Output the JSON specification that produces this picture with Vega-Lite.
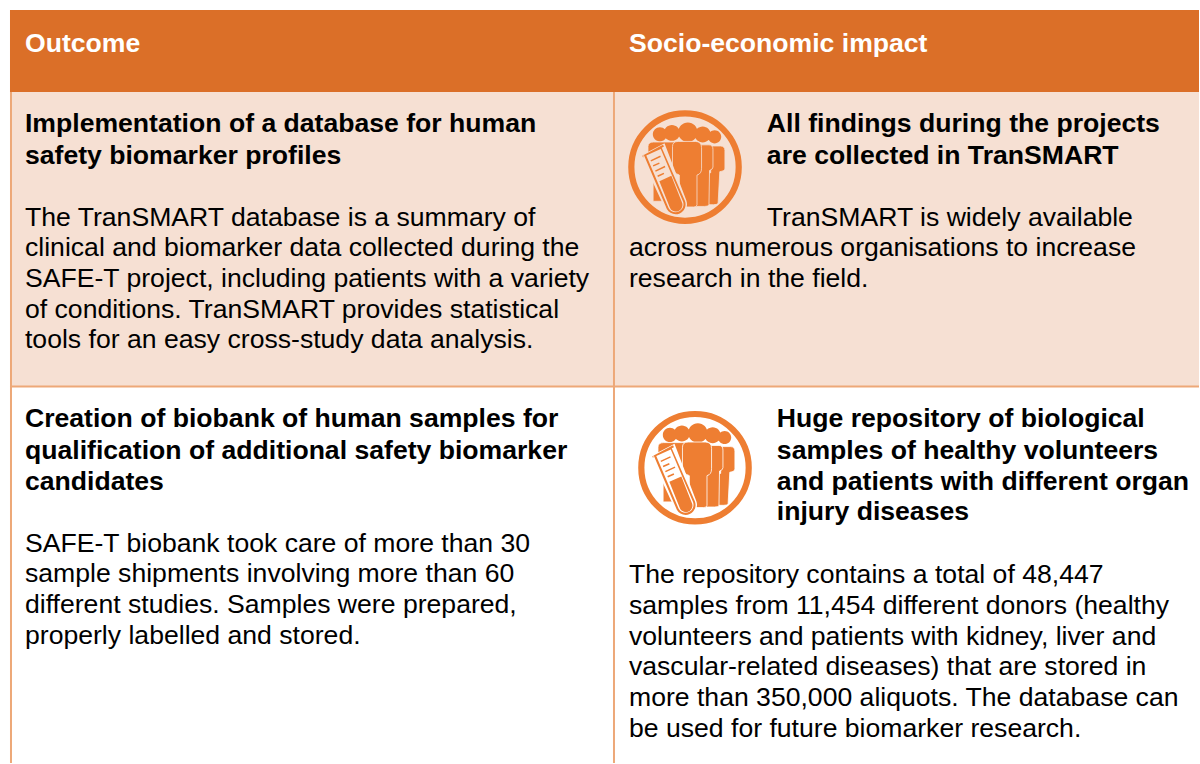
{
"$schema":"https://vega.github.io/schema/vega-lite/v6.json",
"width":1200,"height":764,"padding":0,"autosize":{"type":"fit","contains":"padding"},
"background":"#ffffff",
"config":{"view":{"stroke":null}},
"datasets":{
"bands":[{"name":"header","x":10,"x1":1200,"y":10,"y1":92},{"name":"row1","x":10,"x1":1200,"y":92,"y1":387}],
"vlines":[{"x":11,"y":92,"y1":764},{"x":614.5,"y":92,"y1":764}],
"hlines":[{"x":10,"x1":1200,"y":387,"y1":387}],
"icons":[{"x":685.6,"y":167.3,"row":"shaded"},{"x":695.6,"y":468.3,"row":"plain"}],
"head":[{"x":25,"y":52,"t":"Outcome"},{"x":629.5,"y":52,"t":"Socio-economic impact"}],
"bold":[
{"x":25,"y":132,"t":"Implementation of a database for human"},
{"x":25,"y":164,"t":"safety biomarker profiles"},
{"x":767.5,"y":132,"t":"All findings during the projects"},
{"x":767.5,"y":164,"t":"are collected in TranSMART"},
{"x":25,"y":428,"t":"Creation of biobank of human samples for"},
{"x":25,"y":460,"t":"qualification of additional safety biomarker"},
{"x":25,"y":491,"t":"candidates"},
{"x":777.5,"y":428,"t":"Huge repository of biological"},
{"x":777.5,"y":460,"t":"samples of healthy volunteers"},
{"x":777.5,"y":491,"t":"and patients with different organ"},
{"x":777.5,"y":521,"t":"injury diseases"}],
"body":[
{"x":25,"y":226,"t":"The TranSMART database is a summary of"},
{"x":25,"y":256,"t":"clinical and biomarker data collected during the"},
{"x":25,"y":287,"t":"SAFE-T project, including patients with a variety"},
{"x":25,"y":318,"t":"of conditions. TranSMART provides statistical"},
{"x":25,"y":348,"t":"tools for an easy cross-study data analysis."},
{"x":767.5,"y":226,"t":"TranSMART is widely available"},
{"x":629.5,"y":256,"t":"across numerous organisations to increase"},
{"x":629.5,"y":287,"t":"research in the field."},
{"x":25,"y":553,"t":"SAFE-T biobank took care of more than 30"},
{"x":25,"y":583,"t":"sample shipments involving more than 60"},
{"x":25,"y":614,"t":"different studies. Samples were prepared,"},
{"x":25,"y":645,"t":"properly labelled and stored."},
{"x":629.5,"y":584,"t":"The repository contains a total of 48,447"},
{"x":629.5,"y":615,"t":"samples from 11,454 different donors (healthy"},
{"x":629.5,"y":646,"t":"volunteers and patients with kidney, liver and"},
{"x":629.5,"y":676,"t":"vascular-related diseases) that are stored in"},
{"x":629.5,"y":707,"t":"more than 350,000 aliquots. The database can"},
{"x":629.5,"y":738,"t":"be used for future biomarker research."}]
},
"encoding":{
"x":{"field":"x","type":"quantitative","scale":{"domain":[0,1200],"nice":false,"zero":false},"axis":null},
"y":{"field":"y","type":"quantitative","scale":{"domain":[0,764],"reverse":true,"nice":false,"zero":false},"axis":null}
},
"layer":[
{"data":{"name":"bands"},"transform":[{"filter":"datum.name==='row1'"}],"mark":{"type":"rect","fill":"#F6E0D3"},"encoding":{"x2":{"field":"x1"},"y2":{"field":"y1"}}},
{"data":{"name":"bands"},"transform":[{"filter":"datum.name==='header'"}],"mark":{"type":"rect","fill":"#DB6F28"},"encoding":{"x2":{"field":"x1"},"y2":{"field":"y1"}}},
{"data":{"name":"vlines"},"mark":{"type":"rule","stroke":"#EDA878","strokeWidth":2},"encoding":{"y2":{"field":"y1"}}},
{"data":{"name":"hlines"},"mark":{"type":"rule","stroke":"#EDA878","strokeWidth":2},"encoding":{"x2":{"field":"x1"}}},
{"data":{"name":"icons"},"mark":{"type":"point","shape":"circle","size":11534,"filled":false,"stroke":"#EE7E32","strokeWidth":6.2,"opacity":1}},
{"data":{"name":"icons"},"mark":{"type":"point","filled":true,"opacity":1,"size":12996,"fill":"#EE7E32","stroke":null,
 "shape":"M0.05 -0.78A0.17 0.17 0 1 1 0.05 -0.44A0.17 0.17 0 1 1 0.05 -0.78Z M-0.23 -0.74A0.14 0.14 0 1 1 -0.23 -0.46A0.14 0.14 0 1 1 -0.23 -0.74Z M-0.44 -0.7A0.125 0.125 0 1 1 -0.44 -0.45A0.125 0.125 0 1 1 -0.44 -0.7Z M0.31 -0.71A0.14 0.14 0 1 1 0.31 -0.43A0.14 0.14 0 1 1 0.31 -0.71Z M0.52 -0.645A0.115 0.115 0 1 1 0.52 -0.415A0.115 0.115 0 1 1 0.52 -0.645Z"}},
{"data":{"name":"icons"},"mark":{"type":"point","filled":true,"opacity":1,"size":12996,"fill":"#EE7E32","strokeWidth":0.8,
 "shape":"M0.45 -0.37L0.62 -0.37Q0.7 -0.37 0.7 -0.29L0.7 0.02Q0.7 0.07 0.61 0.08L0.58 0.64Q0.56 0.66 0.5 0.66L0.4 0.66L0.4 0.1L0.45 0.1Z M-0.65 -0.36Q-0.65 -0.44 -0.55 -0.44L-0.15 -0.44L-0.15 0.4L-0.41 0.6L-0.56 0.6L-0.56 0.06Q-0.65 0.04 -0.65 -0.03Z"},
 "encoding":{"stroke":{"field":"row","type":"nominal","legend":null,"scale":{"domain":["shaded","plain"],"range":["#F6E0D3","#ffffff"]}}}},
{"data":{"name":"icons"},"mark":{"type":"point","filled":true,"opacity":1,"size":12996,"fill":"#EE7E32","strokeWidth":0.8,
 "shape":"M0.2 -0.39L0.42 -0.39Q0.49 -0.39 0.49 -0.31L0.49 0.0Q0.49 0.04 0.43 0.06L0.42 0.67Q0.4 0.69 0.34 0.69L0.15 0.69L0.15 0.1L0.2 0.1Z"},
 "encoding":{"stroke":{"field":"row","type":"nominal","legend":null,"scale":{"domain":["shaded","plain"],"range":["#F6E0D3","#ffffff"]}}}},
{"data":{"name":"icons"},"mark":{"type":"point","filled":true,"opacity":1,"size":12996,"fill":"#EE7E32","strokeWidth":0.8,
 "shape":"M-0.22 -0.36Q-0.22 -0.45 -0.12 -0.45L0.18 -0.45Q0.29 -0.45 0.29 -0.34L0.29 0.02Q0.29 0.12 0.21 0.14L0.21 0.66Q0.21 0.7 0.15 0.7L-0.1 0.7L-0.1 0.14Q-0.22 0.1 -0.22 0Z"},
 "encoding":{"stroke":{"field":"row","type":"nominal","legend":null,"scale":{"domain":["shaded","plain"],"range":["#F6E0D3","#ffffff"]}}}},
{"data":{"name":"icons"},"mark":{"type":"point","filled":true,"opacity":1,"size":12996,"stroke":null,
 "shape":"M-0.78 -0.2L-0.36 -0.42L0.022 0.583A0.2 0.2 0 0 1 -0.342 0.747Z"},
 "encoding":{"fill":{"field":"row","type":"nominal","legend":null,"scale":{"domain":["shaded","plain"],"range":["#F6E0D3","#ffffff"]}}}},
{"data":{"name":"icons"},"mark":{"type":"point","filled":true,"opacity":1,"size":12996,"fill":"#EE7E32","stroke":null,
 "shape":"M-0.749 -0.199L-0.386 -0.392L-0.37 -0.36L-0.408 -0.34L-0.001 0.593A0.175 0.175 0 0 1 -0.319 0.737L-0.726 -0.22L-0.735 -0.165Z"}},
{"data":{"name":"icons"},"mark":{"type":"point","filled":true,"opacity":1,"size":12996,"stroke":null,
 "shape":"M-0.68 -0.203L-0.426 -0.317L-0.033 0.608A0.14 0.14 0 0 1 -0.287 0.722Z"},
 "encoding":{"fill":{"field":"row","type":"nominal","legend":null,"scale":{"domain":["shaded","plain"],"range":["#F6E0D3","#ffffff"]}}}},
{"data":{"name":"icons"},"mark":{"type":"point","filled":true,"opacity":1,"size":12996,"fill":"#EE7E32","stroke":null,
 "shape":"M-0.45 0.247L-0.24 0.153L-0.055 0.618A0.115 0.115 0 0 1 -0.265 0.712Z"}},
{"data":{"name":"icons"},"mark":{"type":"point","filled":false,"opacity":1,"size":12996,"stroke":"#EE7E32","strokeWidth":1.5,
 "shape":"M-0.6 -0.11L-0.43 -0.19M-0.56 -0.02L-0.45 -0.07M-0.52 0.07L-0.35 -0.01M-0.48 0.16L-0.37 0.11"}},
{"data":{"name":"head"},"mark":{"type":"text","align":"left","baseline":"alphabetic","font":"Liberation Sans","fontWeight":"bold","fontSize":26.6,"fill":"#ffffff"},"encoding":{"text":{"field":"t"}}},
{"data":{"name":"bold"},"mark":{"type":"text","align":"left","baseline":"alphabetic","font":"Liberation Sans","fontWeight":"bold","fontSize":26.6,"fill":"#000000"},"encoding":{"text":{"field":"t"}}},
{"data":{"name":"body"},"mark":{"type":"text","align":"left","baseline":"alphabetic","font":"Liberation Sans","fontSize":26.6,"fill":"#000000"},"encoding":{"text":{"field":"t"}}}
]
}
